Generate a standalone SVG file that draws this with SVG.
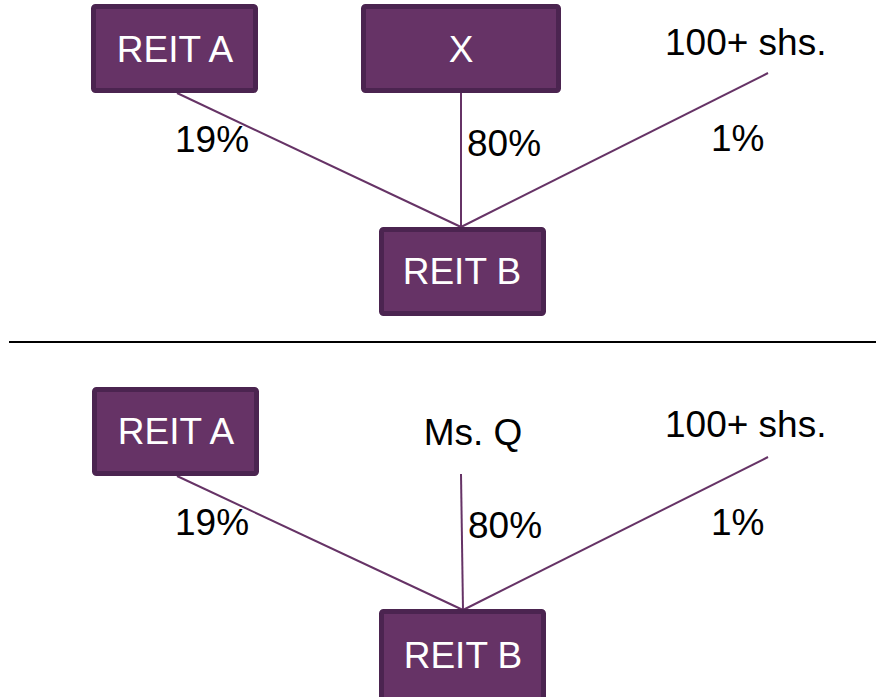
<svg xmlns="http://www.w3.org/2000/svg" width="876" height="697" viewBox="0 0 876 697">
<style>
.box{fill:#663366;stroke:#4b2450;stroke-width:5}
.bt{font-family:"Liberation Sans",Arial,sans-serif;font-size:37px;fill:#ffffff;text-anchor:middle}
.t{font-family:"Liberation Sans",Arial,sans-serif;font-size:37px;fill:#000000}
.c{stroke:#663366;stroke-width:2;fill:none}
</style>
<rect width="876" height="697" fill="#ffffff"/>
<g id="connectors">
<line class="c" x1="177" y1="93" x2="461" y2="227"/>
<line class="c" x1="461" y1="93" x2="461" y2="227"/>
<line class="c" x1="768" y1="73" x2="461" y2="227"/>
<line class="c" x1="177" y1="476" x2="463" y2="610"/>
<line class="c" x1="461" y1="474" x2="463" y2="610"/>
<line class="c" x1="768" y1="457" x2="463" y2="610"/>
</g>
<g id="separator"><line x1="9" y1="342" x2="876" y2="342" stroke="#000000" stroke-width="2"/></g>
<g id="top-reit-a"><rect class="box" x="93.500" y="6.500" width="162" height="84" rx="2"/><text class="bt" x="175" y="62">REIT A</text></g>
<g id="top-x"><rect class="box" x="363.500" y="6.500" width="195" height="84" rx="2"/><text class="bt" x="461" y="62">X</text></g>
<g id="top-holders"><text class="t" x="665" y="55">100+ shs.</text></g>
<g id="top-reit-b"><rect class="box" x="381.500" y="229.500" width="162" height="84" rx="2"/><text class="bt" x="462" y="284">REIT B</text></g>
<g id="top-labels">
<text class="t" x="175" y="152">19%</text>
<text class="t" x="467" y="156">80%</text>
<text class="t" x="711" y="151">1%</text>
</g>
<g id="bot-reit-a"><rect class="box" x="94.500" y="389.500" width="162" height="84" rx="2"/><text class="bt" x="176" y="444">REIT A</text></g>
<g id="bot-msq"><text class="t" x="473" y="445" text-anchor="middle">Ms. Q</text></g>
<g id="bot-holders"><text class="t" x="665" y="437">100+ shs.</text></g>
<g id="bot-reit-b"><rect class="box" x="381.500" y="611.500" width="162" height="90" rx="2"/><text class="bt" x="463" y="668">REIT B</text></g>
<g id="bot-labels">
<text class="t" x="175" y="535">19%</text>
<text class="t" x="468" y="538">80%</text>
<text class="t" x="711" y="535">1%</text>
</g>
</svg>
